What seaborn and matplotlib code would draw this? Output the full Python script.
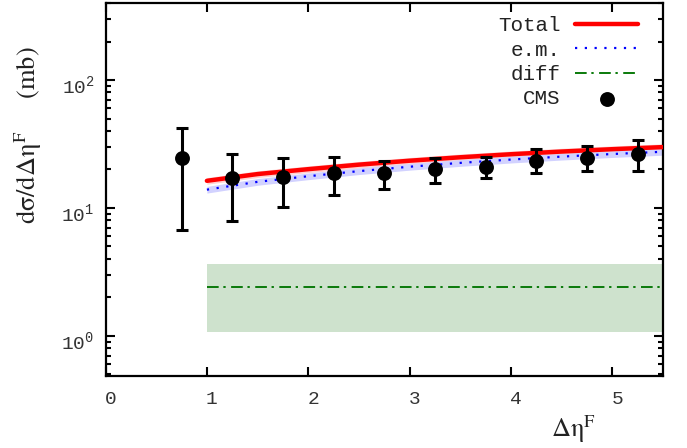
# CMS forward rapidity gap cross section vs model curves
import numpy as np
import pandas as pd
import matplotlib
matplotlib.use('Agg')
import matplotlib.pyplot as plt
import matplotlib.transforms as mtransforms
from matplotlib.ticker import FixedLocator, LogLocator, FuncFormatter, NullFormatter
import seaborn as sns

# CMS points
cms_x = [0.75, 1.25, 1.75, 2.25, 2.75, 3.25, 3.75, 4.25, 4.75, 5.25]
cms_y = [24.4, 17.1, 17.3, 18.9, 18.7, 20.2, 21.0, 23.4, 24.4, 26.4]
cms_lo = [6.7, 7.9, 10.1, 12.6, 14.0, 15.6, 17.1, 18.7, 19.5, 19.5]
cms_hi = [42.0, 26.3, 24.4, 24.9, 23.4, 24.4, 24.9, 28.7, 30.5, 34.0]

# model curves
curve_x = [1.0, 1.5, 2.0, 2.5, 3.0, 3.5, 4.0, 4.5, 5.0, 5.5]
total_y = [16.3, 18.4, 20.1, 21.8, 23.4, 24.9, 26.3, 27.6, 28.8, 29.9]
em_y = [13.9, 16.0, 17.7, 19.4, 21.0, 22.5, 23.9, 25.2, 26.4, 27.5]

# diffractive part and its band
diff_x = [1.0, 5.5]
diff_y = [2.4, 2.4]
diff_lo = [1.08, 1.08]
diff_hi = [3.65, 3.65]

y_ticks = [1, 10, 100]
x_ticks = [0, 1, 2, 3, 4, 5]

sns.set_theme(style="ticks")
plt.rcParams['font.family'] = ['Liberation Mono', 'DejaVu Sans']
plt.rcParams['mathtext.fontset'] = 'stix'

df_curves = pd.DataFrame({'x': curve_x, 'total': total_y, 'em': em_y})
df_cms = pd.DataFrame({'x': cms_x, 'y': cms_y})

fig = plt.figure(figsize=(6.87, 4.48), dpi=100)
ax = fig.add_axes([0.1536, 0.1618, 0.8115, 0.8315])
ax.set_yscale('log')

# bands
ax.fill_between(diff_x, diff_lo, diff_hi, color='#cee2cd', lw=0, zorder=1)
tot = np.array(total_y)
em = np.array(em_y)
ax.fill_between(curve_x, tot * 0.94, tot * 1.06, color='#ffd2d2', lw=0, zorder=2)
ax.fill_between(curve_x, em * 0.94, em * 1.06, color='#d2d2ff', lw=0, zorder=2)

sns.lineplot(data=df_curves, x='x', y='total', ax=ax, color='#ff0000', lw=3.2,
             label='Total', zorder=3)
sns.lineplot(data=df_curves, x='x', y='em', ax=ax, color='#0000ff', lw=1.6,
             linestyle=(0, (1, 3.4)), label='e.m.', zorder=3)
sns.lineplot(x=diff_x, y=diff_y, ax=ax, color='#0a7a0a', lw=1.4,
             linestyle=(0, (6, 2.4, 1.2, 2.8)), label='diff', zorder=3)

# CMS data with error bars
yerr = [np.array(cms_y) - np.array(cms_lo), np.array(cms_hi) - np.array(cms_y)]
ax.errorbar(cms_x, cms_y, yerr=yerr, fmt='none', ecolor='black', elinewidth=2.2,
            capsize=4, capthick=2.2, zorder=4)
sns.scatterplot(data=df_cms, x='x', y='y', ax=ax, color='black', s=115,
                edgecolor='black', linewidth=0, label='CMS', zorder=5)

ax.set_xlim(0, 5.5)
ax.set_ylim(0.49, 400)

ax.xaxis.set_major_locator(FixedLocator(x_ticks))
ax.yaxis.set_major_locator(FixedLocator(y_ticks))
ax.yaxis.set_minor_locator(LogLocator(base=10, subs=np.arange(2, 10)))
ax.yaxis.set_minor_formatter(NullFormatter())
ax.yaxis.set_major_formatter(FuncFormatter(lambda v, p: r'$\mathregular{10^{%d}}$' % round(np.log10(v))))

ax.tick_params(which='both', direction='in', top=True, right=True, width=1.5,
               colors='black', labelcolor='#333333', labelsize=14)
ax.tick_params(which='major', length=6.5)
ax.tick_params(which='minor', length=3.6)
ax.tick_params(axis='x', pad=11)
ax.tick_params(axis='y', pad=8)
for s in ax.spines.values():
    s.set_linewidth(1.6)
    s.set_color('black')

# gnuplot-like label offsets
off_x = mtransforms.ScaledTranslation(5 / 100, 0, fig.dpi_scale_trans)
for lab in ax.get_xticklabels():
    lab.set_transform(lab.get_transform() + off_x)
off_y = mtransforms.ScaledTranslation(0, -4 / 100, fig.dpi_scale_trans)
for lab in ax.get_yticklabels():
    lab.set_transform(lab.get_transform() + off_y)

ax.set_xlabel('Δη' + r'$^{\mathrm{F}}$', fontsize=19, color='#222222',
              fontfamily='STIXGeneral', va='center')
ax.set_ylabel('dσ/dΔη' + r'$^{\mathrm{F}}$' + '     (mb)', fontsize=19, color='#222222',
              fontfamily='STIXGeneral', va='center')
ax.xaxis.set_label_coords(0.84, -0.143)
ax.yaxis.set_label_coords(-0.138, 0.645)

handles, labels = ax.get_legend_handles_labels()
leg = ax.legend(handles, labels, loc='upper right', bbox_to_anchor=(0.955, 0.964),
                frameon=False, markerfirst=False, fontsize=15, handlelength=3.0,
                handletextpad=0.7, labelspacing=0.25, borderpad=0, borderaxespad=0)
for t in leg.get_texts():
    t.set_color('#222222')

fig.savefig('out.png', dpi=100)
